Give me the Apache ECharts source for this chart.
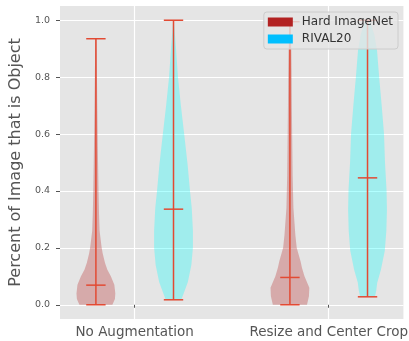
<!DOCTYPE html>
<html>
<head>
<meta charset="utf-8">
<script src="https://cdn.jsdelivr.net/npm/echarts@6/dist/echarts.min.js"></script>
<style>
  html, body { margin: 0; padding: 0; background: #fff; }
  #chart { width: 409px; height: 341px; }
</style>
</head>
<body>
<div id="chart"></div>
<script>
const categories = ['No Augmentation', 'Resize and Center Crop'];
const seriesNames = ['Hard ImageNet', 'RIVAL20'];
const yTicks = [0.0, 0.2, 0.4, 0.6, 0.8, 1.0];

// min / max / mean per category
const hardMin = [0.0, 0.0];
const hardMax = [0.935, 0.995];
const hardMean = [0.069, 0.096];
const rivalMin = [0.0175, 0.028];
const rivalMax = [1.0, 1.0];
const rivalMean = [0.336, 0.446];

// violin outlines: y level and relative density (1 = widest)
const hardNoAugY = [0, 0.02, 0.04, 0.07, 0.10, 0.123, 0.147, 0.18, 0.204, 0.26, 0.32, 0.4, 0.5, 0.6, 0.7, 0.8, 0.9, 0.935];
const hardNoAugD = [0.85, 0.98, 1.0, 0.95, 0.77, 0.59, 0.47, 0.35, 0.29, 0.19, 0.16, 0.135, 0.11, 0.09, 0.07, 0.055, 0.035, 0.025];
const hardResizeY = [0, 0.03, 0.06, 0.1, 0.13, 0.152, 0.2, 0.245, 0.34, 0.456, 0.6, 0.7, 0.8, 0.9, 0.995];
const hardResizeD = [0.88, 0.98, 1.0, 0.75, 0.62, 0.55, 0.35, 0.28, 0.18, 0.14, 0.115, 0.1, 0.09, 0.07, 0.03];
const rivalNoAugY = [0.0175, 0.045, 0.08, 0.14, 0.2, 0.26, 0.34, 0.4, 0.49, 0.6, 0.7, 0.8, 0.9, 0.97, 1.0];
const rivalNoAugD = [0.4, 0.55, 0.74, 0.92, 1.0, 1.0, 0.94, 0.85, 0.73, 0.55, 0.38, 0.23, 0.13, 0.05, 0.015];
const rivalResizeY = [0.028, 0.05, 0.077, 0.123, 0.19, 0.26, 0.333, 0.403, 0.5, 0.6, 0.7, 0.8, 0.894, 0.95, 0.99, 1.0];
const rivalResizeD = [0.38, 0.45, 0.5, 0.69, 0.89, 0.97, 1.0, 0.98, 0.9, 0.85, 0.73, 0.6, 0.49, 0.35, 0.15, 0.07];

const HALF = 0.1;     // half width of widest violin, x units
const CAP = 0.05;     // half width of min/max/mean bars
const OFFSET = 0.2;   // violin offset from category centre
const LINE = '#e24a33';

const hardProfiles = [
  { y: hardNoAugY, d: hardNoAugD },
  { y: hardResizeY, d: hardResizeD },
];
const rivalProfiles = [
  { y: rivalNoAugY, d: rivalNoAugD },
  { y: rivalResizeY, d: rivalResizeD },
];

function violin(profiles, fill) {
  return function (params, api) {
    const p = profiles[params.dataIndex];
    const x = api.value(0);
    const lo = api.value(1), hi = api.value(2), mean = api.value(3);
    const right = p.y.map((y, k) => api.coord([x + p.d[k] * HALF, y]));
    const left = p.y.map((y, k) => api.coord([x - p.d[k] * HALF, y])).reverse();
    const bar = (v) => {
      const a = api.coord([x - CAP, v]), b = api.coord([x + CAP, v]);
      return {
        type: 'line',
        shape: { x1: a[0], y1: a[1], x2: b[0], y2: b[1] },
        style: { stroke: LINE, lineWidth: 1.5 },
      };
    };
    const top = api.coord([x, hi]), bot = api.coord([x, lo]);
    return {
      type: 'group',
      children: [
        { type: 'polygon', shape: { points: right.concat(left) }, style: { fill: fill } },
        {
          type: 'line',
          shape: { x1: top[0], y1: top[1], x2: bot[0], y2: bot[1] },
          style: { stroke: LINE, lineWidth: 1.5 },
        },
        bar(lo), bar(hi), bar(mean),
      ],
    };
  };
}

const chart = echarts.init(document.getElementById('chart'));
chart.setOption({
  animation: false,
  backgroundColor: '#fff',
  textStyle: { fontFamily: 'DejaVu Sans' },
  grid: {
    left: 51, right: 5, top: 6, bottom: 22,
    show: true, backgroundColor: '#e5e5e5', borderWidth: 0,
  },
  legend: {
    orient: 'vertical',
    right: 11,
    top: 12,
    padding: [3, 5, 3, 4],
    itemGap: 3,
    itemWidth: 25,
    itemHeight: 9,
    icon: 'rect',
    backgroundColor: 'rgba(229,229,229,0.8)',
    borderColor: '#cccccc',
    borderWidth: 1,
    borderRadius: 3,
    textStyle: { fontSize: 12, lineHeight: 14, color: '#333', padding: [0, 0, 0, 4], fontFamily: 'DejaVu Sans' },
    data: seriesNames,
  },
  xAxis: {
    type: 'value',
    min: 0.615,
    max: 2.385,
    axisLine: { show: false },
    axisTick: { show: true, length: 3, lineStyle: { color: '#555' }, customValues: [1, 2] },
    axisLabel: {
      customValues: [1, 2],
      formatter: (v) => categories[Math.round(v) - 1],
      color: '#555', fontSize: 13.5, margin: 6,
    },
    splitLine: { show: true, lineStyle: { color: '#fff', width: 1.2 } },
  },
  yAxis: {
    type: 'value',
    min: -0.05,
    max: 1.05,
    name: 'Percent of Image that is Object',
    nameLocation: 'middle',
    nameGap: 29,
    nameTextStyle: { fontSize: 16, color: '#555' },
    axisLine: { show: false },
    axisTick: { show: true, length: 4, lineStyle: { color: '#555' }, customValues: yTicks },
    axisLabel: {
      customValues: yTicks,
      formatter: (v) => v.toFixed(1),
      color: '#555', fontSize: 9.5, margin: 10,
    },
    splitLine: { show: true, lineStyle: { color: '#fff', width: 1.2 } },
  },
  series: [
    {
      name: seriesNames[0],
      type: 'custom',
      itemStyle: { color: '#b22222' },
      renderItem: violin(hardProfiles, 'rgba(178,34,34,0.3)'),
      data: categories.map((c, i) => [i + 1 - OFFSET, hardMin[i], hardMax[i], hardMean[i]]),
    },
    {
      name: seriesNames[1],
      type: 'custom',
      itemStyle: { color: '#00bfff' },
      renderItem: violin(rivalProfiles, 'rgba(0,255,255,0.3)'),
      data: categories.map((c, i) => [i + 1 + OFFSET, rivalMin[i], rivalMax[i], rivalMean[i]]),
    },
  ],
});
</script>
</body>
</html>
